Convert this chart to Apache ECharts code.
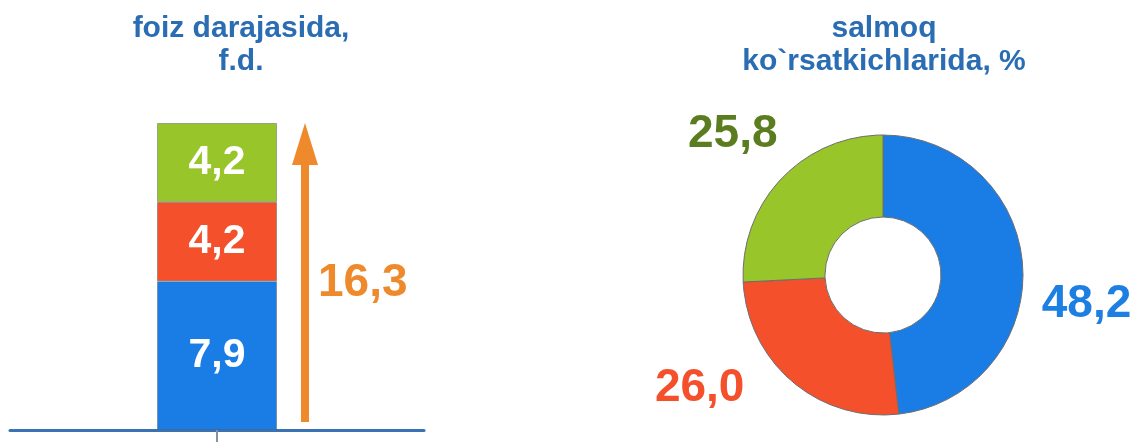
<!DOCTYPE html>
<html>
<head>
<meta charset="utf-8">
<script src="https://cdn.jsdelivr.net/npm/echarts@6/dist/echarts.min.js"></script>
<style>
  html, body { margin: 0; padding: 0; background: #fff; }
  #chart { width: 1148px; height: 443px; }
</style>
</head>
<body>
<div id="chart"></div>
<script>
// left: stacked growth bar, percentage points
const barCategory = ['']
const growthParts = [7.9, 4.2, 4.2]
const growthTotal = 16.3
// right: shares, %
const shareValues = [48.2, 26.0, 25.8]

const colors = ['#1a7de6', '#f4502b', '#98c52a']
const shareLabelColors = ['#1e7fe3', '#f4502b', '#5b7d1f']
const titleColor = '#2a6db3'
const arrowColor = '#ef8a2c'
const font = 'Liberation Sans, Arial, sans-serif'

const fmt = v => v.toFixed(1).replace('.', ',')

const chart = echarts.init(document.getElementById('chart'))

const barSeries = growthParts.map((v, i) => ({
  type: 'bar',
  stack: 'total',
  barWidth: 120,
  data: [v],
  itemStyle: { color: colors[i], borderColor: 'rgba(90,90,90,0.45)', borderWidth: 1 },
  label: {
    show: true,
    position: 'inside',
    color: '#fff',
    fontFamily: font,
    fontWeight: 'bold',
    fontSize: 41,
    formatter: p => fmt(p.value)
  }
}))

// arrow next to the bar, drawn from axis values
const arrowSeries = {
  type: 'custom',
  data: [[0, growthTotal]],
  renderItem: (params, api) => {
    const base = api.coord([api.value(0), 0])
    const tip = api.coord([api.value(0), api.value(1)])
    const x = base[0] + 88
    const headLen = 42
    return {
      type: 'group',
      children: [
        { type: 'rect', shape: { x: x - 4, y: tip[1] + headLen - 2, width: 8, height: base[1] - 8 - (tip[1] + headLen - 2) }, style: { fill: arrowColor } },
        { type: 'polygon', shape: { points: [[x, tip[1]], [x + 13, tip[1] + headLen], [x - 13, tip[1] + headLen]] }, style: { fill: arrowColor } },
        {
          type: 'text',
          x: x + 13,
          y: (base[1] + tip[1]) / 2 + 7,
          style: {
            text: fmt(api.value(1)),
            fill: arrowColor,
            font: 'bold 46px ' + font,
            align: 'left',
            verticalAlign: 'middle'
          }
        }
      ]
    }
  }
}

// nudges for the pie value labels
const labelShift = [
  { dx: 14, dy: 37 },
  { dx: -43, dy: 7 },
  { dx: 1, dy: -44 }
]

const titleStyle = { color: titleColor, fontFamily: font, fontWeight: 'bold', fontSize: 30, lineHeight: 33 }

const option = {
  animation: false,
  title: [
    {
      text: 'foiz darajasida,\nf.d.',
      left: 236,
      top: 7,
      textAlign: 'center',
      textStyle: titleStyle
    },
    {
      text: 'salmoq\nko`rsatkichlarida, %',
      left: 879,
      top: 7,
      textAlign: 'center',
      textStyle: titleStyle
    }
  ],
  grid: { left: 10, width: 414, top: 123, bottom: 13 },
  xAxis: {
    type: 'category',
    data: barCategory,
    axisLine: { lineStyle: { color: '#3a72b4', width: 3 } },
    axisTick: { show: true, alignWithLabel: true, length: 12, lineStyle: { color: '#8592a3', width: 2 } },
    axisLabel: { show: false }
  },
  yAxis: { type: 'value', min: 0, max: growthTotal, show: false },
  series: [
    ...barSeries,
    arrowSeries,
    {
      type: 'pie',
      center: [883, 275],
      radius: [58, 140],
      startAngle: 90,
      clockwise: true,
      avoidLabelOverlap: false,
      data: shareValues.map((v, i) => ({
        value: v,
        itemStyle: { color: colors[i] },
        label: { color: shareLabelColors[i] }
      })),
      itemStyle: { borderColor: '#6d6d6d', borderWidth: 1 },
      label: {
        show: true,
        position: 'outside',
        fontFamily: font,
        fontWeight: 'bold',
        fontSize: 46,
        distanceToLabelLine: 5,
        formatter: p => fmt(p.value)
      },
      labelLine: { show: false, length: 0, length2: 0 },
      labelLayout: p => labelShift[p.dataIndex],
      emphasis: { disabled: true }
    }
  ]
}

chart.setOption(option)
</script>
</body>
</html>
